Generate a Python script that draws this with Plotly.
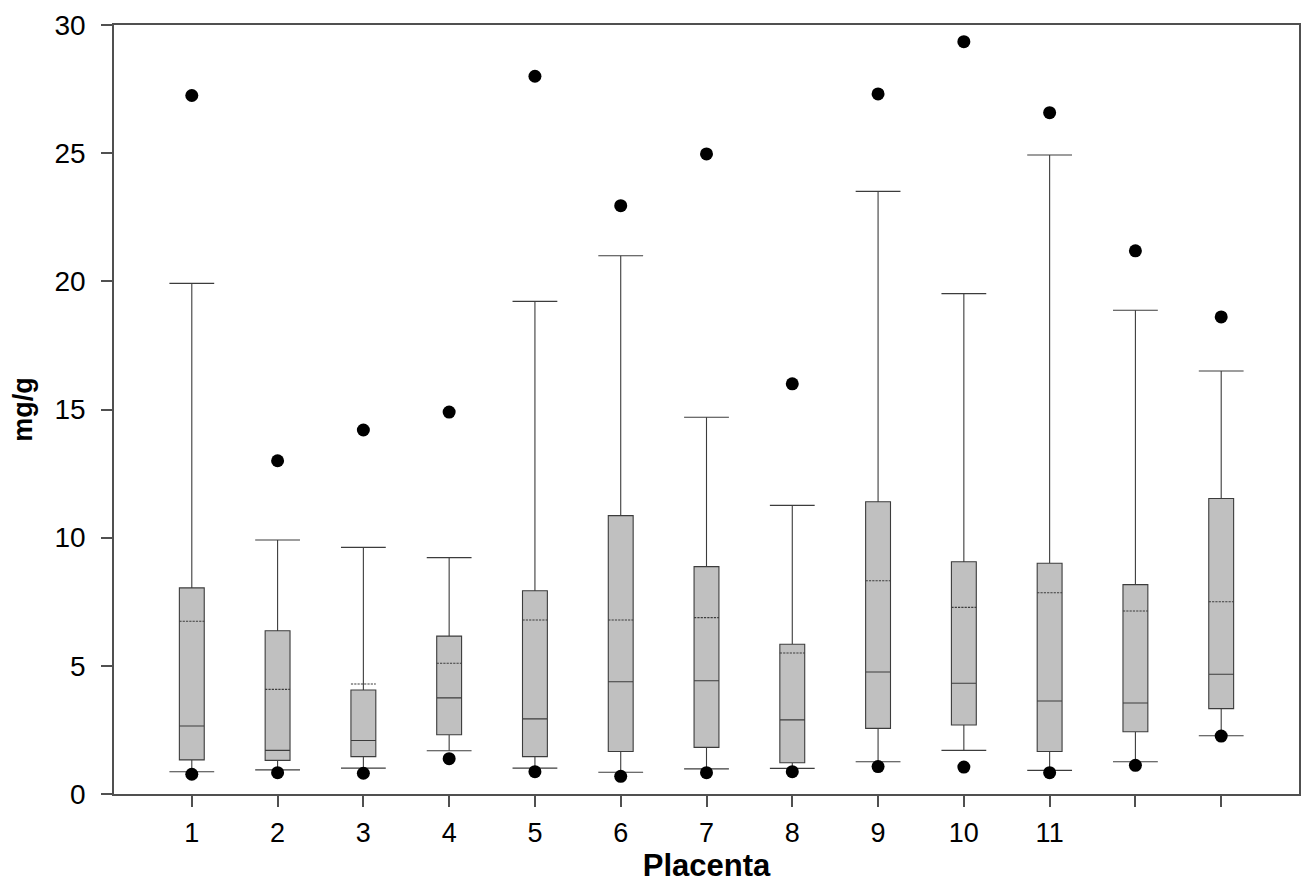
import plotly.graph_objects as go

placenta = [1, 2, 3, 4, 5, 6, 7, 8, 9, 10, 11, 12, 13]
tick_labels = ["1", "2", "3", "4", "5", "6", "7", "8", "9", "10", "11", "", ""]

q1 = [1.33, 1.31, 1.46, 2.31, 1.46, 1.66, 1.82, 1.22, 2.56, 2.69, 1.66, 2.43, 3.33]
median = [2.65, 1.70, 2.09, 3.75, 2.93, 4.38, 4.42, 2.89, 4.76, 4.32, 3.63, 3.55, 4.67]
q3 = [8.04, 6.37, 4.06, 6.16, 7.93, 10.86, 8.87, 5.84, 11.40, 9.06, 9.00, 8.17, 11.53]
mean = [6.74, 4.08, 4.29, 5.10, 6.79, 6.79, 6.88, 5.50, 8.32, 7.28, 7.85, 7.14, 7.50]
lower_whisker = [0.87, 0.94, 1.01, 1.69, 1.01, 0.85, 0.98, 1.00, 1.26, 1.70, 0.92, 1.26, 2.27]
upper_whisker = [19.92, 9.91, 9.62, 9.22, 19.22, 21.0, 14.7, 11.26, 23.51, 19.52, 24.93, 18.87, 16.50]
low_point = [0.77, 0.83, 0.81, 1.38, 0.87, 0.69, 0.83, 0.87, 1.07, 1.05, 0.83, 1.12, 2.26]
high_point = [27.25, 13.0, 14.2, 14.9, 28.0, 22.95, 24.97, 16.0, 27.31, 29.35, 26.58, 21.19, 18.61]

line_col = "#3c3c3c"
axis_col = "#505050"
font_family = "Arial, Liberation Sans, sans-serif"

fig = go.Figure()

fig.add_trace(go.Box(
    x=placenta, q1=q1, median=median, q3=q3, mean=mean,
    lowerfence=lower_whisker, upperfence=upper_whisker,
    boxmean=True, boxpoints=False, width=0.29, whiskerwidth=0,
    fillcolor="#c0c0c0", line=dict(color=line_col, width=1.1),
    showlegend=False, hoverinfo="skip",
))

# whisker caps
fig.add_trace(go.Scatter(
    x=placenta + placenta, y=lower_whisker + upper_whisker, mode="markers",
    marker=dict(symbol="line-ew", size=32, line=dict(color=line_col, width=1.1)),
    showlegend=False, hoverinfo="skip",
))

# outlier dots
fig.add_trace(go.Scatter(
    x=placenta + placenta, y=low_point + high_point, mode="markers",
    marker=dict(symbol="circle", size=13, color="black"),
    showlegend=False, hoverinfo="skip",
))

fig.update_layout(
    width=1293, height=875,
    margin=dict(l=106, r=0, t=17, b=89),
    paper_bgcolor="white", plot_bgcolor="white",
    font=dict(family=font_family, color="black", size=28),
)

fig.update_xaxes(
    range=[0.093, 13.907], tickmode="array", tickvals=placenta, ticktext=tick_labels,
    showgrid=False, zeroline=False, showline=True, linecolor=axis_col, linewidth=1.5,
    mirror=True, ticks="outside", ticklen=11, tickcolor=axis_col, tickwidth=1.5,
    tickfont=dict(size=27, family=font_family, color="black"),
    ticklabelstandoff=3,
    title=dict(text="<b>Placenta</b>", font=dict(size=31, family=font_family, color="black"), standoff=6),
)
fig.update_yaxes(
    range=[0, 30], tickmode="array", tickvals=[0, 5, 10, 15, 20, 25, 30],
    showgrid=False, zeroline=False, showline=True, linecolor=axis_col, linewidth=1.5,
    mirror=True, ticks="outside", ticklen=11, tickcolor=axis_col, tickwidth=1.5,
    tickfont=dict(size=28, family=font_family, color="black"),
    ticklabelstandoff=10,
    title=dict(text="<b>mg/g</b>", font=dict(size=27, family=font_family, color="black"), standoff=14),
)

fig.write_html("out.html")
